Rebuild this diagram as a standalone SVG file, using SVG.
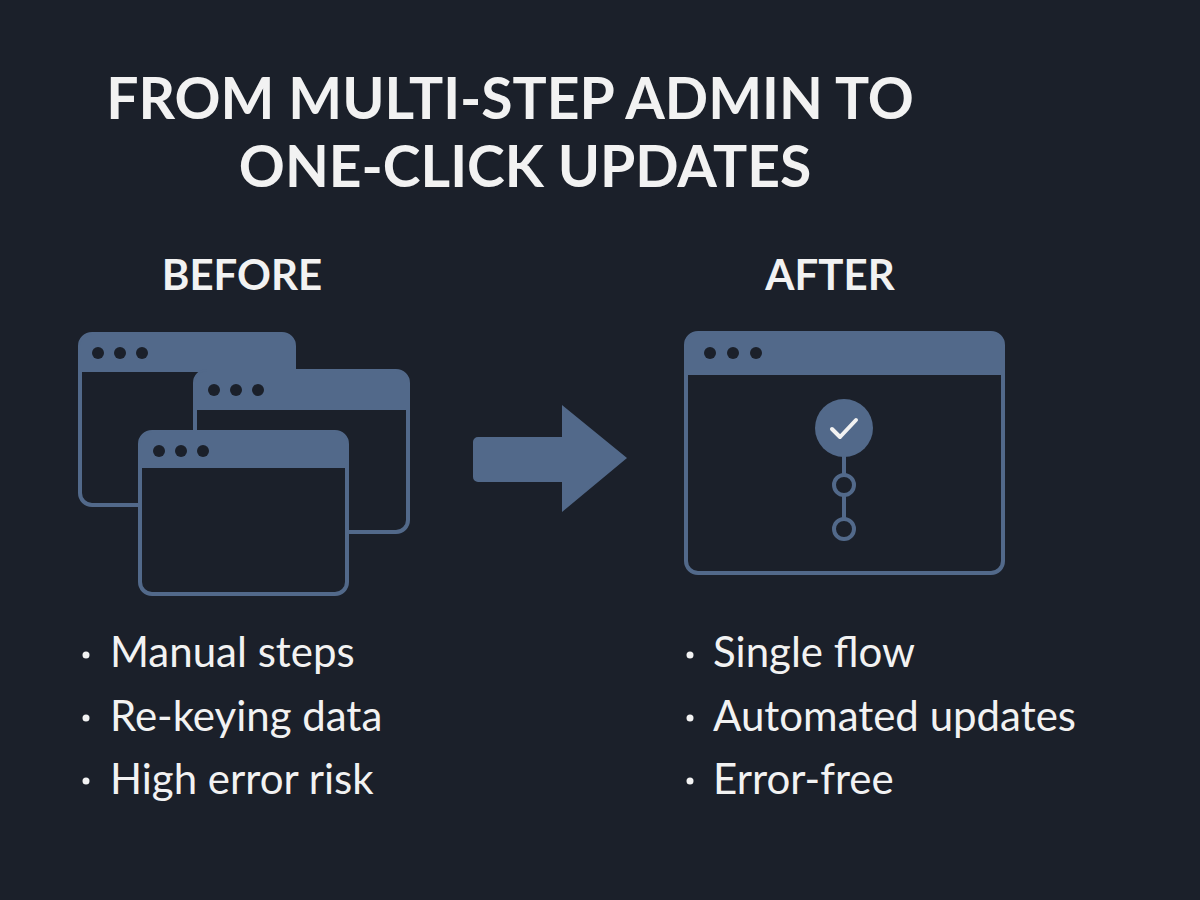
<svg xmlns="http://www.w3.org/2000/svg" width="1200" height="900" viewBox="0 0 1200 900">
<style>
.t{font-family:"Lato","Noto Sans",sans-serif;fill:#f2f2f2}
.h{font-weight:700}
.win{fill:#1b202a;stroke:#52698a;stroke-width:4}
.bar{fill:#52698a}
.dot{fill:#1b202a}
.f{fill:#52698a}
</style>
<rect width="1200" height="900" fill="#1b202a"/>
<text class="t h" x="510" y="119" font-size="57" text-anchor="middle">FROM MULTI-STEP ADMIN TO</text>
<text class="t h" x="525" y="187" font-size="57" text-anchor="middle">ONE-CLICK UPDATES</text>
<text class="t h" x="242" y="290" font-size="42" text-anchor="middle">BEFORE</text>
<text class="t h" x="830" y="290" font-size="42" text-anchor="middle">AFTER</text>
<g id="win-a">
<rect class="win" x="80" y="334" width="214" height="171" rx="12"/>
<path class="bar" d="M80 372 V346 a12 12 0 0 1 12 -12 H282 a12 12 0 0 1 12 12 V372 Z"/>
<circle class="dot" cx="98" cy="353" r="6"/><circle class="dot" cx="120" cy="353" r="6"/><circle class="dot" cx="142" cy="353" r="6"/>
</g>
<g id="win-b">
<rect class="win" x="195" y="371" width="213" height="161" rx="12"/>
<path class="bar" d="M195 410 V383 a12 12 0 0 1 12 -12 H396 a12 12 0 0 1 12 12 V410 Z"/>
<circle class="dot" cx="214" cy="390" r="6"/><circle class="dot" cx="236" cy="390" r="6"/><circle class="dot" cx="258" cy="390" r="6"/>
</g>
<g id="win-c">
<rect class="win" x="140" y="432" width="207" height="162" rx="12"/>
<path class="bar" d="M140 468 V444 a12 12 0 0 1 12 -12 H335 a12 12 0 0 1 12 12 V468 Z"/>
<circle class="dot" cx="159" cy="451" r="6"/><circle class="dot" cx="181" cy="451" r="6"/><circle class="dot" cx="203" cy="451" r="6"/>
</g>
<g id="connectors">
<path class="f" d="M478 437 H562 V405 L627 458 L562 512 V482 H478 a5 5 0 0 1 -5 -5 V442 a5 5 0 0 1 5 -5 Z"/>
</g>
<g id="win-after">
<rect class="win" x="686" y="333" width="317" height="240" rx="12"/>
<path class="bar" d="M686 375 V345 a12 12 0 0 1 12 -12 H991 a12 12 0 0 1 12 12 V375 Z"/>
<circle class="dot" cx="710" cy="353" r="6"/><circle class="dot" cx="733" cy="353" r="6"/><circle class="dot" cx="756" cy="353" r="6"/>
<line x1="844" y1="455" x2="844" y2="519" stroke="#52698a" stroke-width="4"/>
<circle cx="844" cy="428" r="29" fill="#52698a"/>
<path d="M832 429 L840 437 L856 420" fill="none" stroke="#f2f2f2" stroke-width="4" stroke-linecap="round" stroke-linejoin="round"/>
<circle cx="844" cy="485" r="10" fill="#1b202a" stroke="#52698a" stroke-width="4"/>
<circle cx="844" cy="529" r="10" fill="#1b202a" stroke="#52698a" stroke-width="4"/>
</g>
<g font-size="42">
<circle cx="86" cy="655" r="3.5" fill="#f2f2f2"/><text class="t" x="110" y="667">Manual steps</text>
<circle cx="86" cy="718" r="3.5" fill="#f2f2f2"/><text class="t" x="110" y="731">Re-keying data</text>
<circle cx="86" cy="781" r="3.5" fill="#f2f2f2"/><text class="t" x="110" y="794">High error risk</text>
<circle cx="690" cy="655" r="3.5" fill="#f2f2f2"/><text class="t" x="713" y="667">Single flow</text>
<circle cx="690" cy="718" r="3.5" fill="#f2f2f2"/><text class="t" x="713" y="731">Automated updates</text>
<circle cx="690" cy="781" r="3.5" fill="#f2f2f2"/><text class="t" x="713" y="794">Error-free</text>
</g>
</svg>
